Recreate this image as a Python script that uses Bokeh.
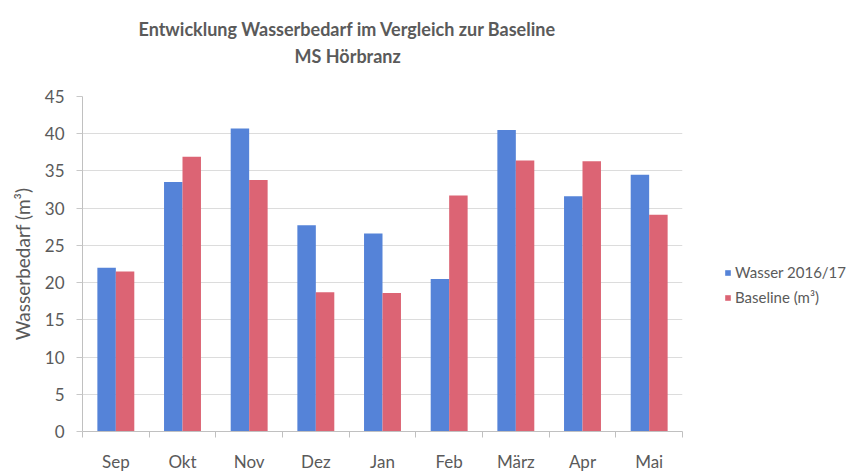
from bokeh.plotting import figure
from bokeh.layouts import row
from bokeh.models import (ColumnDataSource, FactorRange, Range1d, LinearAxis, FixedTicker,
                          Legend, LegendItem, Title)
from bokeh.transform import dodge
from bokeh.embed import file_html
from bokeh.resources import INLINE

months = ["Sep", "Okt", "Nov", "Dez", "Jan", "Feb", "März", "Apr", "Mai"]
wasser = [22.0, 33.5, 40.7, 27.7, 26.6, 20.5, 40.5, 31.6, 34.5]
baseline = [21.5, 36.9, 33.8, 18.7, 18.6, 31.7, 36.4, 36.3, 29.1]
y_ticks = [0, 5, 10, 15, 20, 25, 30, 35, 40, 45]
boundary_ticks = list(range(len(months) + 1))

title1 = "Entwicklung Wasserbedarf im Vergleich zur Baseline"
title2 = "MS Hörbranz"
y_label = "Wasserbedarf (m³)"
legend_labels = ["Wasser 2016/17", "Baseline (m³)"]

FONT = "Lato"
GREY = "#5a5a5a"
BLUE = "#5583d8"
RED = "#dc6474"

src = ColumnDataSource(dict(m=months, w=wasser, b=baseline))

p = figure(width=700, height=474, x_range=FactorRange(*months, range_padding=0),
           y_range=Range1d(0, 45), output_backend="svg", toolbar_location=None,
           min_border_left=82, min_border_right=18, min_border_top=96, min_border_bottom=40)
p.outline_line_color = None
p.background_fill_color = "white"
p.border_fill_color = "white"

bw = 0.277
r1 = p.vbar(x=dodge("m", -bw / 2, range=p.x_range), top="w", width=bw, source=src,
            fill_color=BLUE, line_color=None)
r2 = p.vbar(x=dodge("m", bw / 2, range=p.x_range), top="b", width=bw, source=src,
            fill_color=RED, line_color=None)

# y axis
p.yaxis.ticker = FixedTicker(ticks=y_ticks)
p.yaxis.axis_label = y_label
p.yaxis.axis_label_text_font = FONT
p.yaxis.axis_label_text_font_style = "normal"
p.yaxis.axis_label_text_font_size = "19px"
p.yaxis.axis_label_text_color = GREY
p.yaxis.axis_label_standoff = 8
p.yaxis.major_label_text_font = FONT
p.yaxis.major_label_text_font_size = "17px"
p.yaxis.major_label_text_color = GREY
p.yaxis.major_label_standoff = 12
p.yaxis.major_tick_in = 0
p.yaxis.major_tick_out = 6
p.yaxis.major_tick_line_color = "#c8c8c8"
p.yaxis.minor_tick_line_color = None
p.yaxis.axis_line_color = "#c0c0c0"

p.ygrid.grid_line_color = "#dcdcdc"
p.xgrid.grid_line_color = None

# x axis: boundary tick marks (labels not painted)
tick_axis = LinearAxis(ticker=FixedTicker(ticks=boundary_ticks))
tick_axis.major_label_text_font_size = "1px"
tick_axis.major_label_text_color = None
tick_axis.major_label_standoff = 0
tick_axis.major_tick_in = 0
tick_axis.major_tick_out = 6
tick_axis.major_tick_line_color = "#c0c0c0"
tick_axis.minor_tick_line_color = None
tick_axis.axis_line_color = "#c0c0c0"
p.xaxis.major_tick_line_color = None
p.xaxis.axis_line_color = None
p.xaxis.major_label_text_font = FONT
p.xaxis.major_label_text_font_size = "17px"
p.xaxis.major_label_text_color = GREY
p.xaxis.major_label_standoff = 7
p.below.insert(0, tick_axis)

# spacer between plot area and the titles
spacer = LinearAxis(ticker=FixedTicker(ticks=[0]), axis_line_color=None,
                    major_tick_out=28, major_tick_in=0, major_tick_line_color=None,
                    minor_tick_line_color=None, major_label_text_font_size="1px",
                    major_label_text_color=None, major_label_standoff=0)
p.add_layout(spacer, "above")

# titles (two lines)
t2 = Title(text=title2, align="left", offset=212, text_font=FONT, text_font_style="bold",
           text_font_size="18px", text_color=GREY, standoff=4)
t1 = Title(text=title1, align="left", offset=56, text_font=FONT, text_font_style="bold",
           text_font_size="18px", text_color=GREY, standoff=2)
p.add_layout(t2, "above")
p.add_layout(t1, "above")

# legend in its own panel to the right
lp = figure(width=156, height=474, x_range=Range1d(0, 1), y_range=Range1d(0, 1),
            output_backend="svg", toolbar_location=None,
            min_border_left=0, min_border_right=0, min_border_top=0, min_border_bottom=0)
lp.axis.visible = False
lp.grid.visible = False
lp.outline_line_color = None
lp.border_fill_color = "white"
dummy = ColumnDataSource(dict(x=[0.5], top=[0.0]))  # zero-height, only feeds the legend
d1 = lp.vbar(x="x", top="top", width=0.1, source=dummy, fill_color=BLUE, line_color=None)
d2 = lp.vbar(x="x", top="top", width=0.1, source=dummy, fill_color=RED, line_color=None)
legend = Legend(items=[LegendItem(label=legend_labels[0], renderers=[d1]),
                       LegendItem(label=legend_labels[1], renderers=[d2])],
                location=(24, 125), orientation="vertical", margin=0,
                label_text_font=FONT, label_text_font_size="15px", label_text_color=GREY,
                glyph_width=7, glyph_height=7, spacing=7, padding=0,
                border_line_color=None, background_fill_alpha=0, label_standoff=4)
lp.add_layout(legend)

layout = row(p, lp)
open("out.html", "w").write(file_html(layout, INLINE))
